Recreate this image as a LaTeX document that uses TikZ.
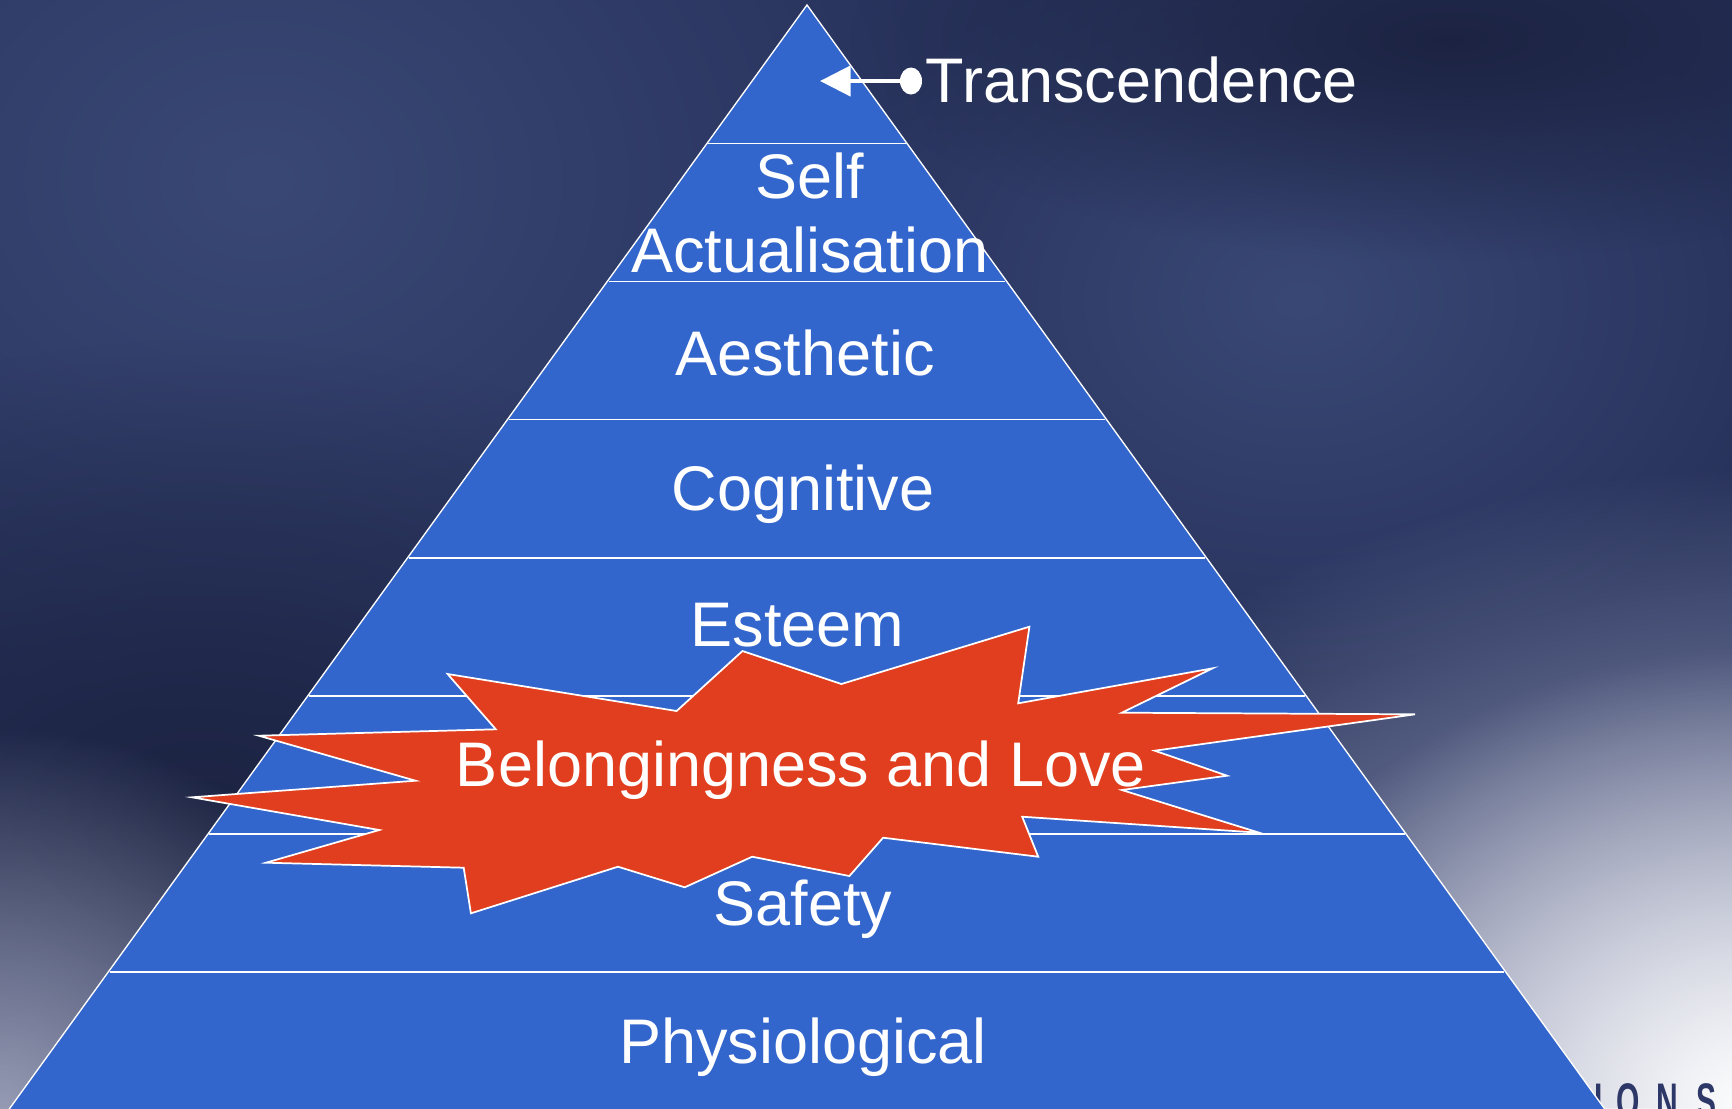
\documentclass[tikz,border=0pt]{standalone}
\usepackage{fontspec}
\setmainfont{Liberation Sans}
\usetikzlibrary{arrows.meta,fadings}

\definecolor{navy}{RGB}{40,51,92}
\definecolor{haze}{RGB}{58,72,118}
\definecolor{shadow}{RGB}{28,35,66}
\definecolor{ashgrey}{RGB}{150,155,180}
\definecolor{mist}{RGB}{170,175,202}
\definecolor{pyrblue}{RGB}{51,102,204}
\definecolor{burst}{RGB}{224,62,30}
\definecolor{logo}{RGB}{46,56,104}

\tikzfading[name=glow, inner color=transparent!0, outer color=transparent!100]

\tikzset{
  tier/.style={anchor=base, inner sep=0pt, text=white, align=center,
    font=\fontsize{47.25}{55.5}\selectfont},
  divider/.style={white, line width=1.1pt},
}

\begin{document}
\begin{tikzpicture}[x=0.75pt,y=0.75pt,yscale=-1,xscale=1]
\useasboundingbox (0,0) rectangle (1732,1108);
\clip (0,0) rectangle (1732,1108);

%Background
\fill[navy] (0,0) rectangle (1732,1108);
\fill[haze, path fading=glow] (260,180) ellipse (700 and 560);
\fill[haze, path fading=glow] (1300,300) ellipse (500 and 380);
\fill[shadow, path fading=glow] (1450,40) ellipse (600 and 220);
\fill[shadow, path fading=glow] (200,820) ellipse (700 and 480);
\fill[ashgrey, path fading=glow] (0,1108) ellipse (420 and 380);
\fill[mist, path fading=glow] (1760,1108) ellipse (880 and 640);
\fill[white, path fading=glow] (1760,1108) ellipse (560 and 460);

%Logo letters
\foreach \ch/\x in {I/1599,O/1628,N/1667,S/1706}
  \node (logo\ch) [anchor=base, inner sep=0pt, text=logo,
    font=\fontsize{37.5}{38}\selectfont\bfseries] at (\x,1118) {\scalebox{0.6}[1]{\ch}};

%Shape: Pyramid
\draw[white, line width=1pt, fill=pyrblue] (807,5) -- (1612.7,1120) -- (1.3,1120) -- cycle;

%Band dividers
\foreach \y in {143.5,281.6,419.7,557.8,695.9,834,972.1}
  \draw[divider] ({807-0.7226*(\y-5)+1.5},\y) -- ({807+0.7226*(\y-5)-1.5},\y);

%Shape: Explosion
\draw[white, line width=1.3pt, fill=burst, line join=miter]
  (1029.4,626.7) -- (1018.2,703.3) -- (1212.6,668.3) -- (1121.8,712.7)
  -- (1415.1,714.3) -- (1154.7,750.7) -- (1227.1,775.7) -- (1121.8,790)
  -- (1259.2,832.7) -- (1022.2,816.7) -- (1038.2,856.7) -- (883.1,837.7)
  -- (849.4,876) -- (752.2,856.7) -- (684.7,887.3) -- (618,866.7)
  -- (470.9,913.3) -- (463.7,867.7) -- (266,862.7) -- (379.3,830)
  -- (192,797.3) -- (415.5,780.7) -- (258.8,735.7) -- (495.8,729.3)
  -- (447.6,674) -- (676.6,711) -- (742.5,651) -- (841.4,684) -- cycle;

%Pointer to the top band
\coordinate (tip) at (820,81);
\coordinate (dot) at (911,81);
\draw[white, line width=3.4pt, -{Triangle[length=23pt,width=22.5pt]}] (dot) -- (tip);
\fill[white] (dot) ellipse (11 and 13.5);

% Text Node
\node (transc) [tier, anchor=base west] at (925.7,102.7) {Transcendence};
% Text Node
\node (selfact) [tier] at (809.7,272.7) {Self\\Actualisation};
% Text Node
\node (aesthetic) [tier] at (805,375.6) {Aesthetic};
% Text Node
\node (cognitive) [tier] at (803,510.3) {Cognitive};
% Text Node
\node (esteem) [tier] at (797.5,646.2) {Esteem};
% Text Node
\node (belonging) [tier] at (801,786.5) {Belongingness and Love};
% Text Node
\node (safety) [tier] at (803,925.7) {Safety};
% Text Node
\node (physio) [tier] at (803,1063.7) {Physiological};

\end{tikzpicture}
\end{document}
